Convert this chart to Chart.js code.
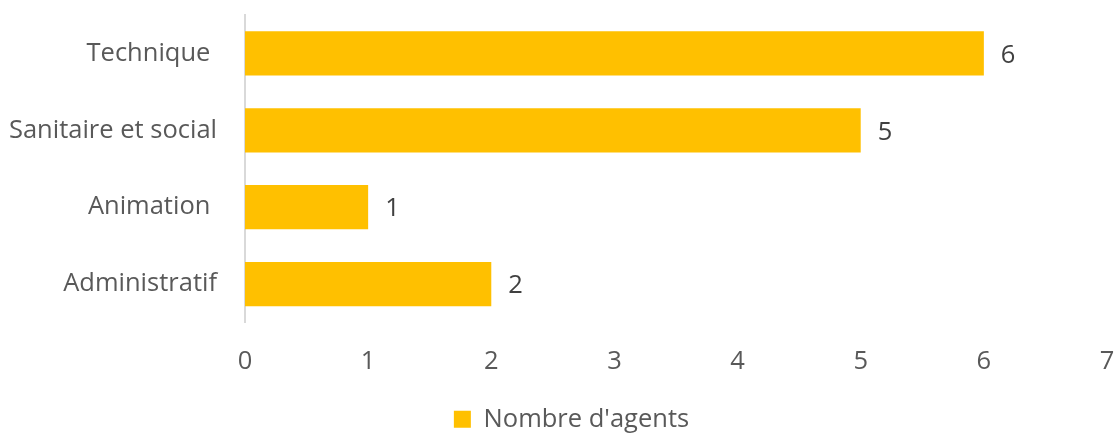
<!DOCTYPE html>
<html lang="fr">
<head>
<meta charset="utf-8">
<title>Nombre d'agents par filière</title>
<script src="https://cdn.jsdelivr.net/npm/chart.js@4/dist/chart.umd.min.js"></script>
<style>
  html, body { margin: 0; padding: 0; background: #ffffff; }
  #wrap { width: 1115px; height: 433px; position: relative; }
</style>
</head>
<body>
<div id="wrap"><canvas id="agentsChart"></canvas></div>
<script>
  // Filières et effectifs
  const filieres = ['Technique ', 'Sanitaire et social', 'Animation ', 'Administratif'];
  const nbAgents = [6, 5, 1, 2];
  const serieLabel = "Nombre d'agents";
  const xMax = 7;

  const FONT = "'Open Sans', 'DejaVu Sans', sans-serif";
  const FONT_SIZE = 25.5;
  const GREY = '#595959';

  // Valeur écrite à droite de chaque barre
  const valueLabels = {
    id: 'valueLabels',
    afterDatasetsDraw(chart) {
      const ctx = chart.ctx;
      const meta = chart.getDatasetMeta(0);
      ctx.save();
      ctx.font = FONT_SIZE + 'px ' + FONT;
      ctx.fillStyle = '#404040';
      ctx.textAlign = 'left';
      ctx.textBaseline = 'middle';
      meta.data.forEach((bar, i) => {
        ctx.fillText(String(nbAgents[i]), bar.x + 17, bar.y + 2);
      });
      ctx.restore();
    }
  };

  // Décale un peu la légende vers la droite
  const legendShift = {
    id: 'legendShift',
    afterLayout(chart) {
      if (chart.legend) {
        chart.legend.left += 18;
        chart.legend.right += 18;
      }
    }
  };

  new Chart(document.getElementById('agentsChart'), {
    type: 'bar',
    data: {
      labels: filieres,
      datasets: [{
        label: serieLabel,
        data: nbAgents,
        backgroundColor: '#FFC000',
        borderWidth: 0,
        barPercentage: 0.575,
        categoryPercentage: 1.0
      }]
    },
    options: {
      indexAxis: 'y',
      responsive: true,
      maintainAspectRatio: false,
      animation: false,
      // la légende déborde un peu en bas, comme dans le document d'origine
      layout: { padding: { top: 15, right: 8, left: 0, bottom: -9 } },
      scales: {
        x: {
          min: 0,
          max: xMax,
          ticks: { stepSize: 1, color: GREY, font: { family: FONT, size: FONT_SIZE }, padding: 24 },
          grid: { display: false, drawTicks: false },
          border: { display: false },
          afterFit(scale) {
            scale.height = 80;
            scale.paddingLeft = 0;
            scale.paddingRight = 0;
          }
        },
        y: {
          ticks: { color: GREY, font: { family: FONT, size: FONT_SIZE }, padding: 28 },
          grid: { display: false, drawTicks: false },
          border: { display: true, color: '#d9d9d9', width: 2 },
          afterFit(scale) {
            scale.width = 245;
            scale.paddingTop = 0;
            scale.paddingBottom = 0;
          }
        }
      },
      plugins: {
        legend: {
          position: 'bottom',
          labels: {
            color: GREY,
            font: { family: FONT, size: FONT_SIZE },
            boxWidth: 17,
            boxHeight: 17,
            padding: 4
          }
        },
        tooltip: { enabled: false }
      }
    },
    plugins: [valueLabels, legendShift]
  });
</script>
</body>
</html>
